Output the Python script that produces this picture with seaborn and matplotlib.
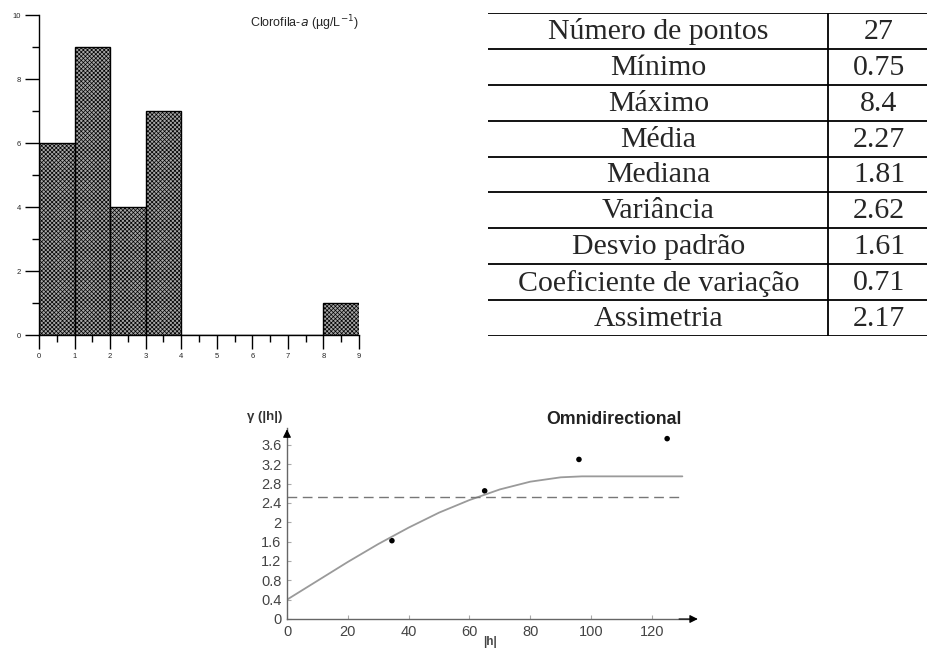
import numpy as np
import pandas as pd
import matplotlib
matplotlib.use("Agg")
import matplotlib.pyplot as plt
import seaborn as sns
from matplotlib.ticker import MultipleLocator

# ---------------- data ----------------
bin_edges = [0, 1, 2, 3, 4, 5, 6, 7, 8, 9]
bin_counts = [6, 9, 4, 7, 0, 0, 0, 0, 1]

stat_names = ["Número de pontos", "Mínimo", "Máximo", "Média", "Mediana",
              "Variância", "Desvio padrão", "Coeficiente de variação", "Assimetria"]
stat_values = ["27", "0.75", "8.4", "2.27", "1.81", "2.62", "1.61", "0.71", "2.17"]

lag_h = [34.5, 65, 96, 125]
gamma_exp = [1.62, 2.65, 3.30, 3.73]

model_h = [0, 10, 20, 30, 40, 50, 60, 70, 80, 90, 97, 110, 120, 130]
model_gamma = [0.40, 0.79, 1.18, 1.55, 1.89, 2.20, 2.46, 2.68, 2.84, 2.93, 2.95, 2.95, 2.95, 2.95]

variance_level = 2.53
y_ticks = [0, 0.4, 0.8, 1.2, 1.6, 2, 2.4, 2.8, 3.2, 3.6]
y_tick_labels = ["0", "0.4", "0.8", "1.2", "1.6", "2", "2.4", "2.8", "3.2", "3.6"]
x_ticks = [0, 20, 40, 60, 80, 100, 120]

sns.set_theme(style="white")
plt.rcParams["font.family"] = ["Liberation Sans", "DejaVu Sans"]
plt.rcParams["hatch.linewidth"] = 0.5

W, H = 927, 654
fig = plt.figure(figsize=(W / 100, H / 100), dpi=100)

# ---------------- histogram ----------------
axh = fig.add_axes([39 / W, 1 - 335 / H, 320 / W, 320 / H])
centers = [(a + b) / 2 for a, b in zip(bin_edges[:-1], bin_edges[1:])]
df = pd.DataFrame({"x": centers, "w": bin_counts})
sns.histplot(data=df, x="x", weights="w", bins=bin_edges, ax=axh,
             color="#a6a6a6", edgecolor="black", linewidth=1.0, alpha=1, hatch="xxxxxxxx")
axh.set_xlim(0, 9)
axh.set_ylim(0, 10)
axh.set_xlabel("")
axh.set_ylabel("")
for s in ["top", "right"]:
    axh.spines[s].set_visible(False)
for s in ["left", "bottom"]:
    axh.spines[s].set_color("black")
    axh.spines[s].set_linewidth(1.0)
axh.xaxis.set_major_locator(MultipleLocator(1))
axh.xaxis.set_minor_locator(MultipleLocator(0.5))
axh.yaxis.set_major_locator(MultipleLocator(2))
axh.yaxis.set_minor_locator(MultipleLocator(1))
axh.tick_params(which="major", direction="out", length=10, width=1, color="black",
                labelsize=5.5, pad=3, bottom=True, left=True)
axh.tick_params(which="minor", direction="out", length=5, width=1, color="black",
                bottom=True, left=True)
axh.text(9, 10.05, "Clorofila-$\\it{a}$ (µg/L$^{-1}$)", ha="right", va="top", fontsize=9)

# ---------------- table ----------------
axt = fig.add_axes([488 / W, 1 - 336 / H, (927 - 488) / W, (336 - 13) / H])
axt.set_xlim(488, 927)
axt.set_ylim(336, 13)
axt.axis("off")
row_lines = np.linspace(13, 336, len(stat_names) + 1)
for yl in row_lines:
    axt.plot([488, 927], [yl, yl], color="black", lw=1.3, solid_capstyle="butt")
axt.plot([828, 828], [13, 336], color="black", lw=1.3)
for i, (n, v) in enumerate(zip(stat_names, stat_values)):
    yc = (row_lines[i] + row_lines[i + 1]) / 2
    axt.text(658.5, yc + 1, n, ha="center", va="center", fontsize=21.5,
             family="Liberation Serif")
    axt.text(879, yc + 1, v, ha="center", va="center", fontsize=21.5,
             family="Liberation Serif")

# ---------------- variogram ----------------
x0, x1 = 287, 693
y0, y1 = 619, 428
axv = fig.add_axes([x0 / W, 1 - y0 / H, (x1 - x0) / W, (y0 - y1) / H])
axv.set_xlim(0, 133.5)
axv.set_ylim(0, 3.95)
sns.lineplot(x=model_h, y=model_gamma, ax=axv, color="#9a9a9a", lw=1.3)
axv.plot([0, 130], [variance_level, variance_level], color="#777777", lw=1.0,
         dashes=(7, 4))
sns.scatterplot(x=lag_h, y=gamma_exp, ax=axv, color="black", s=16, edgecolor="none")
for s in ["top", "right"]:
    axv.spines[s].set_visible(False)
for s in ["left", "bottom"]:
    axv.spines[s].set_color("#666666")
    axv.spines[s].set_linewidth(1.0)
axv.set_xticks(x_ticks)
axv.set_xticklabels([str(t) for t in x_ticks])
axv.set_yticks(y_ticks)
axv.set_yticklabels(y_tick_labels)
axv.tick_params(direction="in", length=3, width=0.8, color="#aaaaaa",
                labelsize=10.5, labelcolor="#444444", pad=4, bottom=True, left=True)
axv.set_xlabel("|h|", fontsize=8.5, color="#444444", labelpad=-2, fontweight="bold")
axv.set_ylabel("")
# arrows
axv.annotate("", xy=(0, 3.98), xytext=(0, 3.7), xycoords="data",
             arrowprops=dict(arrowstyle="-|>", color="black", lw=0.8, mutation_scale=12),
             annotation_clip=False)
axv.annotate("", xy=(136, 0), xytext=(128, 0), xycoords="data",
             arrowprops=dict(arrowstyle="-|>", color="black", lw=0.8, mutation_scale=12),
             annotation_clip=False)
fig.text(265 / W, 1 - 417 / H, "γ (|h|)", ha="center", va="center", fontsize=9.5,
         color="#333333", fontweight="bold")
fig.text(682 / W, 1 - 420 / H, "Omnidirectional", ha="right", va="center",
         fontsize=12.8, fontweight="bold", color="#222222")

fig.savefig("out.png", dpi=100)
